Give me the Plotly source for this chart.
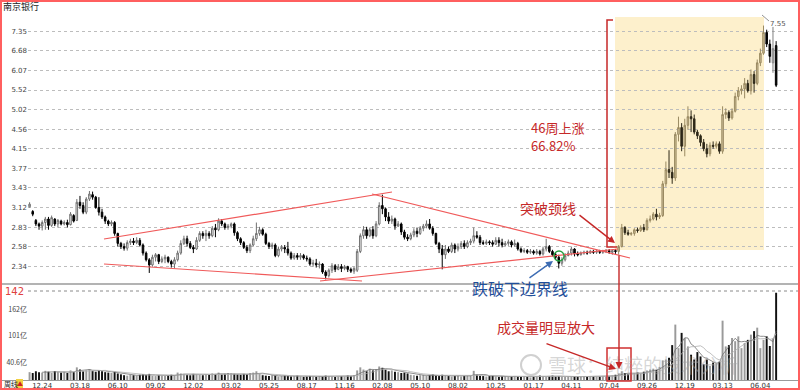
import plotly.graph_objects as go
import pandas as pd

# ---------------- data (weekly candles) ----------------
opens = [
    3.13, 3.06, 2.93, 2.88, 2.85, 2.90, 2.95, 2.86, 2.95, 2.88,
    2.92, 2.88, 2.90, 2.87, 3.00, 2.93, 3.20, 3.15, 3.05, 3.25,
    3.32, 3.28, 3.12, 3.05, 2.98, 2.92, 2.88, 2.90, 2.75, 2.62,
    2.58, 2.56, 2.63, 2.65, 2.63, 2.66, 2.60, 2.50, 2.42, 2.36,
    2.45, 2.48, 2.40, 2.43, 2.45, 2.40, 2.37, 2.42, 2.50, 2.62,
    2.68, 2.62, 2.57, 2.55, 2.66, 2.75, 2.72, 2.75, 2.72, 2.82,
    2.80, 2.92, 2.88, 2.83, 2.85, 2.88, 2.76, 2.68, 2.63, 2.57,
    2.53, 2.60, 2.68, 2.75, 2.80, 2.74, 2.62, 2.58, 2.60, 2.47,
    2.55, 2.57, 2.55, 2.50, 2.44, 2.47, 2.45, 2.47, 2.44, 2.43,
    2.37, 2.38, 2.36, 2.37, 2.28, 2.24, 2.30, 2.35, 2.31, 2.34,
    2.32, 2.34, 2.31, 2.29, 2.30, 2.52, 2.72, 2.80, 2.72, 2.80,
    2.72, 2.88, 3.15, 3.10, 2.98, 2.92, 2.95, 2.85, 2.88, 2.77,
    2.70, 2.68, 2.73, 2.78, 2.75, 2.82, 2.85, 2.88, 2.82, 2.75,
    2.62, 2.55, 2.48, 2.55, 2.52, 2.60, 2.55, 2.58, 2.62, 2.58,
    2.63, 2.65, 2.72, 2.70, 2.63, 2.62, 2.64, 2.63, 2.61, 2.66,
    2.63, 2.60, 2.62, 2.64, 2.60, 2.62, 2.55, 2.52, 2.53, 2.51,
    2.52, 2.50, 2.52, 2.49, 2.55, 2.58, 2.52, 2.48, 2.45, 2.38,
    2.42, 2.47, 2.50, 2.55, 2.49, 2.48, 2.50, 2.51, 2.50, 2.52,
    2.51, 2.52, 2.51, 2.52, 2.53, 2.51, 2.53, 2.52, 2.58, 2.83,
    2.76, 2.74, 2.75, 2.80, 2.79, 2.83, 2.80, 2.93, 2.95, 3.02,
    2.98, 3.00, 3.50, 3.75, 3.70, 3.60, 4.45, 4.60, 4.20, 4.65,
    4.85, 4.80, 4.50, 4.42, 4.28, 4.15, 4.05, 4.22, 4.20, 4.25,
    4.10, 4.90, 4.95, 4.82, 4.98, 5.35, 5.50, 5.55, 5.70, 5.50,
    5.95, 5.70, 6.30, 6.60, 7.30, 6.90, 6.30, 6.85,
]
highs = [
    3.20, 3.08, 2.95, 2.90, 2.93, 2.98, 2.98, 3.00, 2.96, 2.95,
    2.94, 2.93, 2.94, 3.05, 3.02, 3.25, 3.30, 3.20, 3.28, 3.38,
    3.37, 3.30, 3.28, 3.10, 3.00, 2.94, 2.93, 2.92, 2.76, 2.64,
    2.62, 2.66, 2.68, 2.69, 2.70, 2.69, 2.62, 2.52, 2.44, 2.48,
    2.50, 2.49, 2.46, 2.48, 2.46, 2.42, 2.45, 2.53, 2.66, 2.72,
    2.72, 2.65, 2.60, 2.70, 2.78, 2.78, 2.80, 2.78, 2.85, 2.88,
    2.96, 2.95, 2.90, 2.88, 2.90, 2.90, 2.78, 2.70, 2.65, 2.60,
    2.62, 2.72, 2.90, 2.84, 2.82, 2.76, 2.64, 2.63, 2.62, 2.58,
    2.60, 2.60, 2.64, 2.52, 2.50, 2.50, 2.50, 2.49, 2.47, 2.45,
    2.42, 2.43, 2.40, 2.38, 2.30, 2.32, 2.38, 2.37, 2.37, 2.37,
    2.36, 2.35, 2.33, 2.34, 2.55, 2.75, 2.85, 2.84, 2.83, 2.85,
    2.92, 3.20, 3.32, 3.12, 3.05, 3.00, 2.97, 2.92, 2.90, 2.80,
    2.74, 2.76, 2.82, 2.83, 2.85, 2.88, 2.93, 2.95, 2.85, 2.76,
    2.64, 2.60, 2.60, 2.58, 2.63, 2.62, 2.62, 2.65, 2.66, 2.66,
    2.68, 2.83, 2.78, 2.73, 2.66, 2.67, 2.66, 2.66, 2.70, 2.70,
    2.68, 2.65, 2.67, 2.66, 2.67, 2.64, 2.57, 2.56, 2.55, 2.55,
    2.54, 2.55, 2.54, 2.58, 2.68, 2.60, 2.54, 2.50, 2.48, 2.45,
    2.50, 2.53, 2.58, 2.56, 2.52, 2.52, 2.53, 2.53, 2.54, 2.54,
    2.55, 2.54, 2.54, 2.55, 2.55, 2.55, 2.55, 2.60, 2.88, 2.85,
    2.80, 2.77, 2.82, 2.83, 2.86, 2.88, 2.96, 3.00, 3.05, 3.10,
    3.04, 3.55, 3.90, 4.12, 3.80, 4.50, 4.85, 4.70, 4.80, 5.10,
    5.00, 4.90, 4.55, 4.45, 4.35, 4.25, 4.28, 4.30, 4.30, 4.30,
    5.10, 5.05, 5.00, 5.05, 5.45, 5.60, 5.65, 5.85, 5.80, 6.10,
    6.05, 6.40, 6.75, 7.55, 7.40, 7.05, 7.50, 7.00,
]
lows = [
    3.12, 2.99, 2.85, 2.80, 2.79, 2.80, 2.80, 2.84, 2.85, 2.83,
    2.86, 2.86, 2.83, 2.86, 2.90, 2.92, 3.10, 3.02, 3.02, 3.22,
    3.24, 3.10, 3.00, 2.95, 2.88, 2.85, 2.85, 2.72, 2.58, 2.55,
    2.53, 2.53, 2.60, 2.60, 2.61, 2.58, 2.47, 2.40, 2.27, 2.34,
    2.40, 2.37, 2.38, 2.38, 2.38, 2.33, 2.32, 2.40, 2.48, 2.60,
    2.58, 2.55, 2.50, 2.54, 2.64, 2.68, 2.65, 2.68, 2.70, 2.70,
    2.78, 2.85, 2.80, 2.80, 2.82, 2.72, 2.65, 2.60, 2.55, 2.50,
    2.50, 2.58, 2.65, 2.72, 2.72, 2.60, 2.55, 2.55, 2.45, 2.45,
    2.52, 2.50, 2.47, 2.42, 2.42, 2.42, 2.42, 2.42, 2.40, 2.35,
    2.34, 2.33, 2.32, 2.26, 2.20, 2.22, 2.27, 2.28, 2.30, 2.28,
    2.30, 2.28, 2.27, 2.26, 2.28, 2.50, 2.68, 2.68, 2.70, 2.68,
    2.70, 2.86, 3.02, 2.92, 2.88, 2.88, 2.80, 2.84, 2.73, 2.67,
    2.65, 2.66, 2.70, 2.70, 2.73, 2.78, 2.82, 2.80, 2.72, 2.60,
    2.50, 2.31, 2.43, 2.50, 2.50, 2.50, 2.52, 2.55, 2.55, 2.56,
    2.60, 2.62, 2.68, 2.60, 2.60, 2.60, 2.60, 2.58, 2.60, 2.58,
    2.57, 2.58, 2.59, 2.57, 2.58, 2.53, 2.50, 2.50, 2.49, 2.49,
    2.48, 2.48, 2.47, 2.47, 2.52, 2.50, 2.46, 2.42, 2.32, 2.35,
    2.40, 2.46, 2.47, 2.46, 2.46, 2.47, 2.48, 2.48, 2.49, 2.49,
    2.49, 2.49, 2.49, 2.50, 2.49, 2.48, 2.49, 2.48, 2.57, 2.73,
    2.72, 2.72, 2.72, 2.76, 2.77, 2.77, 2.79, 2.90, 2.93, 2.93,
    2.95, 2.98, 3.45, 3.60, 3.50, 3.55, 4.30, 4.10, 4.00, 4.55,
    4.50, 4.45, 4.35, 4.20, 4.10, 3.98, 4.00, 4.15, 4.15, 4.05,
    4.05, 4.80, 4.75, 4.78, 4.95, 5.25, 5.40, 5.30, 5.45, 5.40,
    5.45, 5.65, 6.20, 6.55, 6.80, 6.30, 6.00, 5.60,
]
closes = [
    3.17, 3.02, 2.88, 2.85, 2.90, 2.95, 2.86, 2.97, 2.88, 2.93,
    2.88, 2.90, 2.87, 3.02, 2.92, 3.20, 3.15, 3.05, 3.25, 3.33,
    3.28, 3.12, 3.05, 2.98, 2.92, 2.88, 2.90, 2.75, 2.62, 2.58,
    2.56, 2.63, 2.65, 2.63, 2.66, 2.60, 2.50, 2.42, 2.36, 2.45,
    2.48, 2.40, 2.43, 2.45, 2.40, 2.37, 2.42, 2.50, 2.62, 2.68,
    2.62, 2.57, 2.55, 2.66, 2.75, 2.72, 2.75, 2.72, 2.82, 2.80,
    2.92, 2.88, 2.83, 2.85, 2.88, 2.76, 2.68, 2.63, 2.57, 2.53,
    2.60, 2.68, 2.75, 2.80, 2.74, 2.62, 2.58, 2.60, 2.47, 2.55,
    2.57, 2.55, 2.50, 2.44, 2.47, 2.45, 2.47, 2.44, 2.43, 2.37,
    2.38, 2.36, 2.37, 2.28, 2.24, 2.30, 2.35, 2.31, 2.34, 2.32,
    2.34, 2.31, 2.29, 2.32, 2.52, 2.72, 2.80, 2.72, 2.80, 2.72,
    2.88, 3.15, 3.10, 2.98, 2.92, 2.95, 2.85, 2.88, 2.77, 2.70,
    2.68, 2.73, 2.78, 2.75, 2.82, 2.85, 2.88, 2.82, 2.75, 2.62,
    2.55, 2.48, 2.55, 2.52, 2.60, 2.55, 2.58, 2.62, 2.58, 2.63,
    2.65, 2.72, 2.70, 2.63, 2.62, 2.64, 2.63, 2.61, 2.66, 2.63,
    2.60, 2.62, 2.64, 2.60, 2.62, 2.55, 2.52, 2.53, 2.51, 2.52,
    2.50, 2.52, 2.49, 2.55, 2.58, 2.52, 2.48, 2.45, 2.38, 2.42,
    2.47, 2.50, 2.55, 2.49, 2.48, 2.50, 2.51, 2.50, 2.52, 2.51,
    2.52, 2.51, 2.52, 2.53, 2.51, 2.53, 2.52, 2.58, 2.83, 2.76,
    2.74, 2.75, 2.80, 2.79, 2.83, 2.80, 2.93, 2.95, 3.02, 2.98,
    3.00, 3.50, 3.75, 3.70, 3.60, 4.45, 4.60, 4.20, 4.65, 4.85,
    4.80, 4.50, 4.42, 4.28, 4.15, 4.05, 4.22, 4.20, 4.25, 4.10,
    4.90, 4.95, 4.82, 4.98, 5.35, 5.50, 5.55, 5.70, 5.50, 5.95,
    5.70, 6.30, 6.60, 7.30, 6.90, 6.50, 6.75, 5.65,
]
volumes = [  # 亿
    18, 16, 20, 18, 17, 21, 19, 16, 20, 18,
    17, 19, 16, 22, 18, 29, 24, 20, 22, 25,
    21, 19, 23, 20, 18, 17, 16, 19, 15, 13,
    11, 10, 12, 11, 10, 12, 13, 11, 14, 10,
    9, 11, 10, 9, 10, 12, 11, 17, 15, 13,
    12, 11, 14, 13, 12, 11, 13, 12, 15, 14,
    17, 13, 14, 16, 15, 14, 13, 12, 14, 13,
    16, 17, 20, 14, 11, 10, 9, 11, 10, 8,
    9, 10, 9, 8, 9, 10, 8, 7, 8, 9,
    8, 7, 9, 8, 10, 9, 8, 7, 8, 9,
    8, 10, 9, 11, 22, 29, 24, 20, 26, 22,
    25, 31, 28, 24, 20, 22, 19, 18, 16, 17,
    15, 12, 11, 10, 11, 12, 10, 11, 13, 10,
    9, 12, 10, 9, 8, 9, 10, 8, 9, 10,
    11, 21, 12, 10, 9, 8, 9, 10, 8, 7,
    8, 9, 7, 8, 9, 8, 7, 8, 7, 6,
    7, 8, 10, 9, 8, 9, 10, 8, 9, 8,
    7, 8, 7, 8, 7, 8, 9, 8, 9, 8,
    7, 8, 9, 8, 9, 10, 12, 15, 20, 16,
    14, 13, 15, 17, 16, 19, 22, 24, 26, 23,
    30, 45, 47, 51, 80, 127, 73, 108, 96, 77,
    58, 47, 64, 54, 36, 47, 32, 40, 38, 42,
    136, 77, 80, 96, 89, 100, 73, 85, 92, 104,
    112, 120, 73, 92, 100, 78, 95, 200,
]
tick_idx = [4, 16, 28, 40, 52, 64, 76, 88, 100, 112,
            124, 136, 148, 160, 172, 184, 196, 208, 220, 232]
tick_labels = ["12.24", "03.18", "06.10", "09.02", "12.02", "03.02", "05.25",
               "08.17", "11.16", "02.08", "05.10", "08.02", "10.25", "01.17",
               "04.11", "07.04", "09.26", "12.19", "03.13", "06.04"]
price_ticks = [2.34, 2.58, 2.83, 3.12, 3.43, 3.77, 4.15, 4.56, 5.02, 5.52, 6.07, 6.68, 7.35]
vol_ticks = [40.6, 101, 162]
vol_tick_labels = ["40.6亿", "101亿", "162亿"]

# ---------------- geometry helpers (pixel -> paper) ----------------
L, R, T, B = 28, 796, 12, 380
def px(x):
    return (x - L) / (R - L)
def py(y):
    return (B - y) / (B - T)

N = len(closes)
xs = list(range(N))
CJK = "Noto Sans CJK SC"

fig = go.Figure()

def add_candles(a, b, inc_fill, inc_line, dec_fill, dec_line):
    fig.add_trace(go.Candlestick(
        x=xs[a:b], open=opens[a:b], high=highs[a:b], low=lows[a:b], close=closes[a:b],
        increasing=dict(fillcolor=inc_fill, line=dict(color=inc_line, width=1)),
        decreasing=dict(fillcolor=dec_fill, line=dict(color=dec_line, width=1)),
        whiskerwidth=0, showlegend=False, hoverinfo="skip", xaxis="x", yaxis="y"))

add_candles(0, 187, "#FFFFFF", "#707070", "#000000", "#000000")
add_candles(187, 234, "#CDBE98", "#9A8A62", "#2E2818", "#2E2818")
add_candles(234, N, "#C8C8C8", "#808080", "#000000", "#000000")

vol_colors = ["#9A9A9A" if c >= o else "#111111" for o, c in zip(opens, closes)]
fig.add_trace(go.Bar(x=xs, y=volumes, marker=dict(color=vol_colors, line=dict(width=0)),
                     width=0.62, xaxis="x", yaxis="y2", showlegend=False, hoverinfo="skip"))
vs = pd.Series(volumes, dtype=float)
fig.add_trace(go.Scatter(x=xs, y=vs.rolling(5).mean(), mode="lines",
                         line=dict(color="#707070", width=0.8), xaxis="x", yaxis="y2",
                         showlegend=False, hoverinfo="skip"))
fig.add_trace(go.Scatter(x=xs, y=vs.rolling(10).mean(), mode="lines",
                         line=dict(color="#B0B0B0", width=0.8), xaxis="x", yaxis="y2",
                         showlegend=False, hoverinfo="skip"))

fig.update_layout(
    width=800, height=390,
    margin=dict(l=L, r=800 - R, t=T, b=390 - B),
    paper_bgcolor="white", plot_bgcolor="rgba(0,0,0,0)",
    showlegend=False,
    font=dict(family=CJK, size=8, color="#333"),
    xaxis=dict(range=[-0.5, -0.5 + (R - L) / 3.15], anchor="free", position=py(379.5),
               tickmode="array", tickvals=tick_idx, ticktext=tick_labels,
               tickfont=dict(size=7, color="#333", family="DejaVu Sans"),
               showgrid=False, zeroline=False, showline=False, ticks="",
               rangeslider=dict(visible=False), tickangle=0, automargin=False),
    yaxis=dict(type="log", domain=[py(284), 1.0], range=[0.3327, 0.9065],
               tickmode="array", tickvals=price_ticks,
               ticktext=[f"{v:.2f}" for v in price_ticks],
               showgrid=True, gridcolor="#BDBDBD", griddash="dot", gridwidth=1,
               tickfont=dict(size=7, color="#444", family="DejaVu Sans"),
               zeroline=False, ticks="", anchor="x", automargin=False),
    yaxis2=dict(domain=[0, py(291)], range=[0, 204],
                tickmode="array", tickvals=vol_ticks, ticktext=vol_tick_labels,
                showgrid=False, zeroline=False, ticks="", anchor="x",
                tickfont=dict(size=7, color="#444", family=CJK), automargin=False),
)

RED = "#C62828"
LINE_RED = "#F05A5A"
shapes = []
def pline(x0, y0, x1, y1, color, width=1.0, dash="solid"):
    shapes.append(dict(type="line", xref="paper", yref="paper",
                       x0=px(x0), y0=py(y0), x1=px(x1), y1=py(y1),
                       line=dict(color=color, width=width, dash=dash)))

# highlighted rise area
shapes.append(dict(type="rect", xref="paper", yref="paper", layer="below",
                   x0=px(615), x1=px(764), y0=py(250), y1=py(17),
                   fillcolor="#FDF0CC", line=dict(width=0)))
# panel separators
pline(2, 284, 798, 284, "#9A9A9A", 1.5)
pline(2, 380.5, 798, 380.5, "#9A9A9A", 1)
pline(28, 291, 798, 291, "#8A8A8A", 1, "dot")
# pattern lines
pline(104, 239, 392, 192, LINE_RED, 1.2)
pline(372, 194, 630, 258, LINE_RED, 1.2)
pline(104, 264, 362, 281, LINE_RED, 1.2)
pline(320, 281, 618, 249, LINE_RED, 1.2)
# bracket
shapes.append(dict(type="path", xref="paper", yref="paper",
                   path=f"M {px(613)},{py(20)} L {px(607)},{py(20)} L {px(607)},{py(247)} L {px(617)},{py(247)}",
                   line=dict(color=RED, width=1.5)))
# volume box
shapes.append(dict(type="rect", xref="paper", yref="paper",
                   x0=px(607), x1=px(631), y0=py(381), y1=py(348),
                   line=dict(color="#D03030", width=1.5)))
# green circle
shapes.append(dict(type="circle", xref="paper", yref="paper",
                   x0=px(554), x1=px(564), y0=py(261), y1=py(251),
                   line=dict(color="#22A040", width=1.3)))
# peak leader
pline(762, 15, 769, 21, "#777777", 0.8)
# watermark logo
shapes.append(dict(type="circle", xref="paper", yref="paper",
                   x0=px(521), x1=px(541), y0=py(375), y1=py(355),
                   line=dict(color="rgba(170,170,170,0.55)", width=2)))
# 周线 icon
shapes.append(dict(type="rect", xref="paper", yref="paper",
                   x0=px(16), x1=px(23), y0=py(388), y1=py(379),
                   fillcolor="#F2D040", line=dict(width=0)))
# frame
shapes.append(dict(type="rect", xref="paper", yref="paper",
                   x0=px(1), x1=px(799), y0=py(389), y1=py(1),
                   line=dict(color="#FF5F5F", width=2)))

ann = []
def text(x, y, s, size, color, xanchor="left", family=CJK, align="left"):
    ann.append(dict(xref="paper", yref="paper", x=px(x), y=py(y), text=s,
                    showarrow=False, xanchor=xanchor, yanchor="middle",
                    font=dict(size=size, color=color, family=family), align=align))
def arrow(hx, hy, tx, ty, color, width=1.4):
    ann.append(dict(xref="paper", yref="paper", x=px(hx), y=py(hy), text="",
                    showarrow=True, ax=tx - hx, ay=ty - hy, arrowhead=2,
                    arrowsize=1, arrowwidth=width, arrowcolor=color))

text(1, 6, "南京银行", 9, "#222222")
text(3, 291, "142", 10, "#E04040", family="DejaVu Sans")
text(768, 24, "7.55", 7, "#555555", family="DejaVu Sans")
text(529, 127, "46周上涨", 13, RED)
text(529, 145, "66.82%", 13, RED)
text(518, 208, "突破颈线", 14, RED)
text(470, 288, "跌破下边界线", 16, "#1F4E9A")
text(495, 327, "成交量明显放大", 14, RED)
text(546, 364, "雪球：纯粹的技术分析", 19, "rgba(165,165,165,0.45)")
text(2, 384, "周线", 7, "#222222")
text(19.5, 383, "▲", 6, "#D02020", xanchor="center")

arrow(615, 243, 578, 214, RED)
arrow(553, 261, 528, 279, "#3D6CB3")
arrow(616, 369, 545, 343, RED)
arrow(619, 369, 619, 254, RED)

fig.update_layout(shapes=shapes, annotations=ann)
fig.write_html("out.html", config={"displayModeBar": False, "staticPlot": True},
               post_script="document.body.style.margin='0';document.body.style.overflow='hidden';")
